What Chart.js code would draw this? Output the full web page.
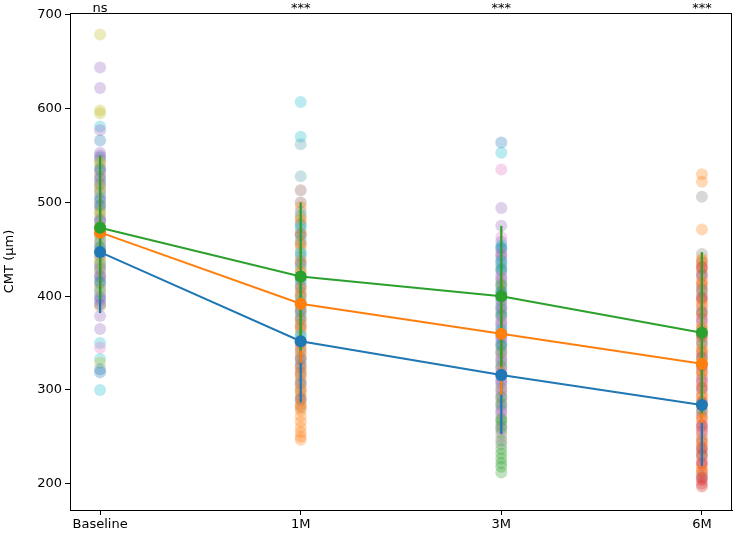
<!DOCTYPE html>
<html lang="en">
<head>
    <meta charset="UTF-8">
    <title>CMT over time</title>
    <script src="https://cdn.jsdelivr.net/npm/chart.js"></script>
    <style>
        body { margin: 0; background: #fff; }
        #wrap { width: 738px; height: 538px; }
    </style>
</head>
<body>
    <div id="wrap"><canvas id="chart"></canvas></div>

    <script>
        const timeLabels = ['Baseline', '1M', '3M', '6M'];
        const sigLabels = ['ns', '***', '***', '***'];

        // group means and SD (blue, orange, green)
        const blueMean = [447, 352, 316, 284];
        const blueSd = [65, 65, 63, 65];
        const orangeMean = [468, 392, 360, 328];
        const orangeSd = [66, 63, 65, 63];
        const greenMean = [473, 421, 400, 361];
        const greenSd = [77, 79, 75, 86];

        // individual eyes per visit, with colour key
        const baseVals = [679, 644, 622, 598, 595, 581, 577, 566,
            553, 548, 545, 541, 537, 533, 529, 525, 521, 518, 514, 510, 506, 502, 498, 495, 491, 487, 483, 480,
            476, 472, 468, 465, 461, 457, 453, 450, 446, 442, 438, 434, 431, 427, 423, 420, 416, 412, 408, 404,
            400, 396, 392, 389, 379, 365, 350, 345, 333, 329, 322, 319, 300,
            550, 543, 535, 527, 519, 512, 504, 497, 489, 481, 474, 466, 459, 451, 444, 436, 429, 421, 414, 406, 398, 391];
        const baseCols = ['ol', 'pu', 'pu', 'ol', 'ol', 'cy', 'pu', 'bl',
            'pu', 'bl', 'pu', 'ol', 'gr', 'pu', 'ol', 'bl', 'pu', 'ol', 'gr', 'pu', 'cy', 'bl', 'ol', 'pu', 'gr', 'ol', 'pu', 'bl',
            'ol', 'pu', 'gr', 'ol', 'cy', 'pu', 'bl', 'ol', 'pu', 'gr', 'ol', 'bl', 'pu', 'ol', 'pu', 'gr', 'bl', 'ol', 'pu', 'cy',
            'pu', 'bl', 'pu', 'ol', 'pu', 'pu', 'cy', 'pk', 'cy', 'ol', 'bl', 'bl', 'cy',
            'pu', 'ol', 'bl', 'pu', 'gr', 'ol', 'pu', 'bl', 'ol', 'pu', 'gr', 'pu', 'ol', 'bl', 'pu', 'ol', 'gr', 'pu', 'bl', 'ol', 'pu', 'pu'];

        const m1Vals = [607, 570, 562, 528, 513,
            500, 495, 490, 486, 481, 477, 472, 468, 464, 459, 455, 451, 447, 442, 438, 434, 430, 425, 421, 417,
            413, 408, 404, 400, 396, 391, 387, 383, 379, 374, 370, 366, 362, 357, 353, 349, 345, 340, 336, 332,
            328, 323, 319, 315, 311, 306, 302, 298, 294, 289, 285, 281, 278, 272, 266, 260, 255, 250, 247,
            484, 475, 466, 457, 445, 436, 427, 419, 410, 401, 393, 385, 376, 368, 359, 351, 342, 334, 325, 317, 308, 300, 291, 283];
        const m1Cols = ['cy', 'cy', 'tl', 'tl', 'br',
            'br', 'or', 'gr', 'cy', 'or', 'br', 'cy', 'or', 'gr', 'cy', 'br', 'or', 'cy', 'gr', 'or', 'br', 'cy', 'or', 'gr', 'br',
            'cy', 'or', 'gr', 'br', 'cy', 'or', 'gr', 'br', 'cy', 'or', 'gr', 'br', 'or', 'cy', 'gr', 'or', 'br', 'gr', 'or', 'br',
            'gr', 'or', 'br', 'gr', 'or', 'br', 'or', 'gr', 'or', 'br', 'or', 'gr', 'or', 'or', 'or', 'or', 'or', 'or', 'or',
            'or', 'cy', 'br', 'or', 'cy', 'gr', 'or', 'cy', 'br', 'or', 'cy', 'gr', 'br', 'or', 'cy', 'br', 'or', 'gr', 'br', 'or', 'gr', 'or', 'br', 'or'];

        const m3Vals = [564, 553, 535, 494, 475, 463,
            458, 454, 450, 446, 442, 438, 434, 430, 426, 422, 418, 414, 410, 406, 402, 398, 394, 390, 386, 382,
            378, 374, 370, 366, 362, 358, 354, 350, 346, 342, 338, 334, 330, 326, 322, 318, 314, 310, 306, 302,
            298, 294, 290, 286, 282, 278, 274, 270, 266, 262, 258, 254, 250, 246, 242,
            237, 232, 227, 222, 218, 212,
            452, 444, 436, 428, 420, 412, 404, 396, 388, 380, 372, 364, 356, 348, 340, 332, 324, 316, 308, 300, 292, 284, 276, 268, 260];
        const m3Cols = ['bl', 'cy', 'pk', 'pu', 'pu', 'pk',
            'pu', 'cy', 'bl', 'pk', 'gr', 'bl', 'pu', 'gn', 'cy', 'pk', 'bl', 'gr', 'pu', 'gn', 'bl', 'pk', 'cy', 'pu', 'bl', 'gr',
            'gn', 'pk', 'bl', 'pu', 'cy', 'gr', 'pk', 'bl', 'gn', 'pu', 'pk', 'gr', 'bl', 'gn', 'pk', 'pu', 'gr', 'bl', 'pk', 'gn',
            'gr', 'pu', 'pk', 'gn', 'gr', 'bl', 'pk', 'gn', 'gr', 'gn', 'gr', 'gn', 'pk', 'gn', 'gr',
            'gn', 'gn', 'gn', 'gn', 'gn', 'gn',
            'bl', 'pu', 'cy', 'bl', 'pk', 'gn', 'bl', 'pu', 'gr', 'bl', 'pk', 'cy', 'pu', 'bl', 'gn', 'pk', 'gr', 'bl', 'pu', 'pk', 'gn', 'gr', 'pk', 'gn', 'gr'];

        const m6Vals = [530, 522, 506, 471,
            445, 440, 436, 432, 428, 424, 420, 416, 412, 408, 404, 400, 396, 392, 388, 384, 380, 376, 372, 368,
            364, 360, 356, 352, 348, 344, 340, 336, 332, 328, 324, 320, 316, 312, 308, 304, 300, 296, 292, 288,
            284, 280, 276, 272, 268, 264, 260, 256, 252, 248, 244, 240, 236, 232, 228, 224, 220, 216, 212, 208,
            204, 200, 197,
            438, 430, 422, 414, 406, 398, 390, 382, 374, 366, 358, 350, 342, 334, 326, 318, 310, 302, 294, 286, 278, 270, 262, 254, 246, 238, 230, 222, 214, 206];
        const m6Cols = ['or', 'or', 'gr', 'or',
            'gr', 'or', 'br', 'rd', 'or', 'gr', 'pk', 'or', 'rd', 'br', 'or', 'gr', 'rd', 'or', 'pk', 'br', 'or', 'rd', 'gr', 'or',
            'br', 'pk', 'rd', 'or', 'gr', 'or', 'rd', 'br', 'or', 'pk', 'gr', 'rd', 'or', 'br', 'rd', 'or', 'gr', 'pk', 'or', 'rd',
            'br', 'or', 'gr', 'rd', 'or', 'pk', 'br', 'rd', 'or', 'gr', 'rd', 'or', 'br', 'rd', 'or', 'pk', 'rd', 'or', 'rd', 'br',
            'rd', 'rd', 'rd',
            'or', 'rd', 'br', 'or', 'gr', 'rd', 'or', 'br', 'pk', 'or', 'rd', 'gr', 'or', 'br', 'rd', 'or', 'pk', 'rd', 'or', 'br', 'gr', 'or', 'rd', 'pk', 'or', 'rd', 'br', 'rd', 'or', 'rd'];

        const palette = {
            bl: '31,119,180', or: '255,127,14', gn: '44,160,44', rd: '214,39,40', pu: '148,103,189',
            br: '140,86,75', pk: '227,119,194', gr: '127,127,127', ol: '188,189,34', cy: '23,190,207', tl: '80,160,170'
        };

        const visits = [[baseVals, baseCols], [m1Vals, m1Cols], [m3Vals, m3Cols], [m6Vals, m6Cols]];
        const datasets = [];

        visits.forEach(([vals, cols], i) => {
            datasets.push({
                type: 'scatter',
                data: vals.map(v => ({ x: i, y: v })),
                pointBackgroundColor: cols.map(c => 'rgba(' + palette[c] + ',0.3)'),
                pointBorderWidth: 0,
                pointRadius: 6,
                order: 10
            });
        });

        const groups = [
            { mean: blueMean, sd: blueSd, color: '#1f77b4', order: 3 },
            { mean: orangeMean, sd: orangeSd, color: '#ff7f0e', order: 2 },
            { mean: greenMean, sd: greenSd, color: '#2ca02c', order: 1 }
        ];

        groups.forEach(g => {
            g.mean.forEach((m, i) => {
                datasets.push({
                    type: 'line',
                    data: [{ x: i, y: m - g.sd[i] }, { x: i, y: m + g.sd[i] }],
                    borderColor: g.color,
                    borderWidth: 2.2,
                    pointRadius: 0,
                    order: g.order + 3
                });
            });
        });

        groups.forEach(g => {
            datasets.push({
                type: 'line',
                data: g.mean.map((m, i) => ({ x: i, y: m })),
                borderColor: g.color,
                backgroundColor: g.color,
                borderWidth: 2,
                pointRadius: 6,
                pointBorderWidth: 0,
                pointBackgroundColor: g.color,
                order: g.order
            });
        });

        const frame = {
            id: 'frame',
            afterDraw(chart) {
                const { ctx, chartArea: a, scales } = chart;
                ctx.save();
                ctx.strokeStyle = '#000';
                ctx.lineWidth = 1;
                ctx.strokeRect(a.left + 0.5, a.top + 0.5, a.right - a.left - 1, a.bottom - a.top);
                ctx.fillStyle = '#000';
                ctx.font = '13px "DejaVu Sans"';
                ctx.textAlign = 'center';
                ctx.textBaseline = 'alphabetic';
                sigLabels.forEach((s, i) => {
                    ctx.fillText(s, scales.x.getPixelForValue(i), a.top - 1);
                });
                ctx.restore();
            }
        };

        Chart.defaults.font.family = '"DejaVu Sans", sans-serif';
        Chart.defaults.font.size = 13;
        Chart.defaults.color = '#000';

        new Chart(document.getElementById('chart'), {
            type: 'scatter',
            data: { datasets },
            options: {
                responsive: true,
                maintainAspectRatio: false,
                animation: false,
                layout: { padding: { top: 13, right: 3, left: 0, bottom: 0 } },
                plugins: { legend: { display: false }, tooltip: { enabled: false } },
                scales: {
                    x: {
                        type: 'linear',
                        min: -0.15,
                        max: 3.15,
                        afterBuildTicks: s => { s.ticks = timeLabels.map((_, i) => ({ value: i })); },
                        afterFit: s => { s.height = 28; },
                        ticks: { callback: v => timeLabels[v] ?? '', padding: 2, maxRotation: 0 },
                        grid: { drawOnChartArea: false, tickLength: 5, color: '#000' },
                        border: { display: true, color: '#000' }
                    },
                    y: {
                        min: 172,
                        max: 702,
                        afterBuildTicks: s => { s.ticks = [200, 300, 400, 500, 600, 700].map(v => ({ value: v })); },
                        afterFit: s => { s.width = 70; },
                        ticks: { padding: 3 },
                        title: { display: true, text: 'CMT (µm)', padding: { top: 2, bottom: 0 } },
                        grid: { drawOnChartArea: false, tickLength: 5, color: '#000' },
                        border: { display: true, color: '#000' }
                    }
                }
            },
            plugins: [frame]
        });
    </script>
</body>
</html>
